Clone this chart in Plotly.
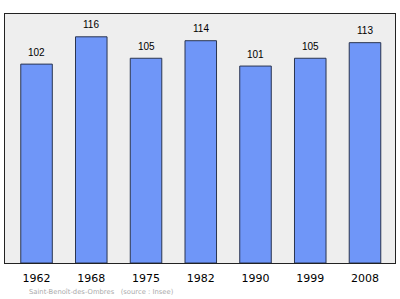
import plotly.graph_objects as go

years = ["1962", "1968", "1975", "1982", "1990", "1999", "2008"]
population = [102, 116, 105, 114, 101, 105, 113]

fig = go.Figure()
fig.add_trace(go.Bar(
    x=list(range(len(years))), y=population,
    marker=dict(color="#6f96f8", line=dict(color="#2a3550", width=1)),
    width=0.576,
))
labels = [dict(x=i, y=v, text=str(v), xref="x", yref="y", showarrow=False,
               yanchor="middle", yshift=12,
               font=dict(family="Liberation Sans", size=10, color="black"))
          for i, v in enumerate(population)]
labels.append(dict(text="Saint-Benoît-des-Ombres&nbsp;&nbsp;&nbsp;(source : Insee)",
                   xref="paper", yref="paper", x=0.057, y=-0.115, xanchor="left", yanchor="middle",
                   showarrow=False, font=dict(family="DejaVu Sans", size=6.8, color="#aaaaaa")))
fig.update_layout(
    width=400, height=299,
    margin=dict(l=5, r=5, t=14, b=36),
    paper_bgcolor="white",
    plot_bgcolor="#eeeeee",
    showlegend=False,
    xaxis=dict(range=[-0.576, 6.548], showgrid=False, zeroline=False,
               tickmode="array", tickvals=list(range(len(years))), ticktext=years,
               ticks="outside", ticklen=5, tickcolor="rgba(0,0,0,0)",
               showline=True, linecolor="#222", mirror=True, linewidth=1,
               tickfont=dict(family="DejaVu Sans", size=11, color="black")),
    yaxis=dict(range=[0, 127.7], showgrid=False, showticklabels=False, zeroline=False,
               showline=True, linecolor="#222", mirror=True, linewidth=1),
    annotations=labels,
)
fig.write_html("out.html")
